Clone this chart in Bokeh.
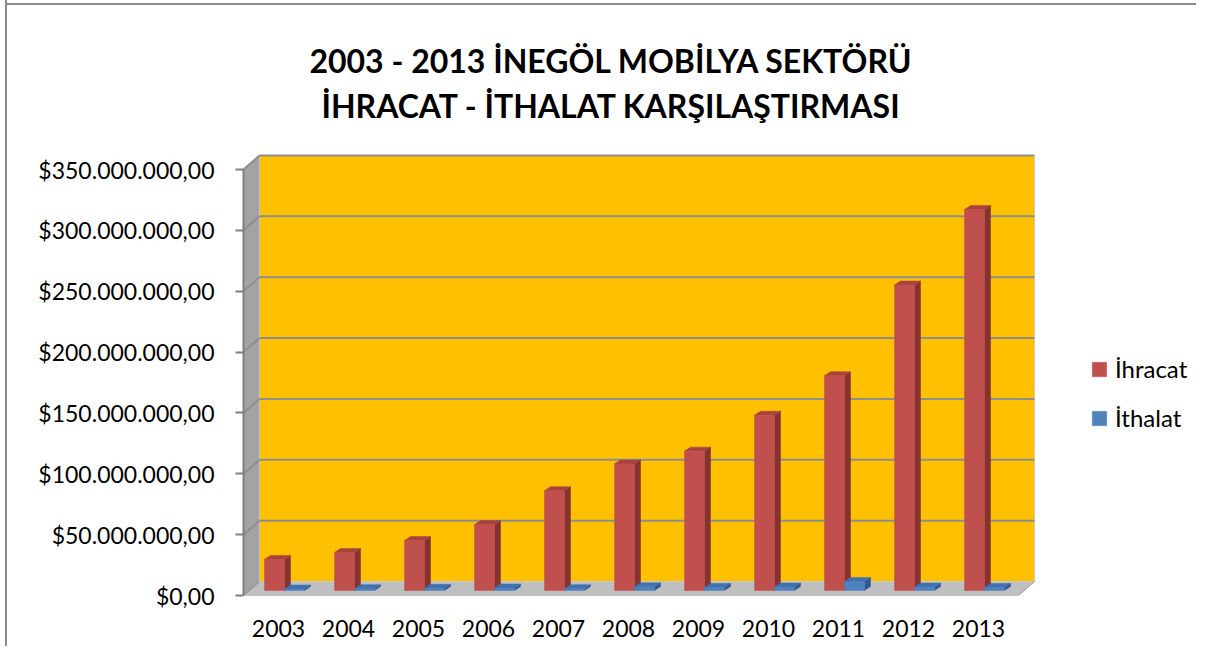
from bokeh.plotting import figure
from bokeh.models import Range1d, FixedTicker, Label, Legend, LegendItem
from bokeh.embed import file_html
from bokeh.resources import INLINE

# ---------------- data ----------------
years = ["2003", "2004", "2005", "2006", "2007", "2008", "2009", "2010", "2011", "2012", "2013"]
ihracat = [25_500_000, 31_200_000, 41_000_000, 54_200_000, 82_000_000, 104_000_000,
           114_500_000, 144_000_000, 176_500_000, 251_000_000, 313_000_000]
ithalat = [1_200_000, 1_500_000, 1_800_000, 2_000_000, 1_500_000, 3_000_000,
           2_500_000, 2_800_000, 7_400_000, 2_800_000, 2_500_000]
y_ticks = [0, 50_000_000, 100_000_000, 150_000_000, 200_000_000, 250_000_000, 300_000_000, 350_000_000]
series_names = ["İhracat", "İthalat"]
title_lines = ["2003 - 2013 İNEGÖL MOBİLYA SEKTÖRÜ", "İHRACAT - İTHALAT KARŞILAŞTIRMASI"]


def fmt(v):
    return "$" + f"{int(v):,}".replace(",", ".") + ",00"


# ---------------- geometry (pixels -> data) ----------------
W, H = 1196, 646
FL, FT = 243, 0
FW, FH = W - FL, 595 - FT
PXU = 70.0                      # px per category
PXV = 426.0 / 350_000_000       # px per value unit
x0 = -0.5
x1 = x0 + FW / PXU
y1 = FH / PXV

WDX = 16 / PXU
WDY = 14 / PXV
BDX = 6 / PXU
BDY = 4 / PXV
BASE = 5 / PXV
BW = 20 / PXU
RED_OFF = -0.2
FLOOR_R = 10.571
TOPV = y_ticks[-1]

p = figure(width=W, height=H, output_backend="svg", toolbar_location=None,
           x_range=Range1d(x0, x1), y_range=Range1d(0, y1),
           min_border_left=FL, min_border_right=0,
           min_border_top=FT, min_border_bottom=H - FT - FH)
p.outline_line_color = None
p.background_fill_alpha = 0
p.border_fill_alpha = 0
p.styles = {
    "background": ("linear-gradient(to right, #ffffff 5px, #8c8c8c 5px, #8c8c8c 7px, transparent 7px), "
                   "linear-gradient(to bottom, #ffffff 3px, #8c8c8c 3px, #8c8c8c 5px, #ffffff 5px)"),
}
p.xgrid.visible = False
p.ygrid.visible = False

# floor
p.patch([x0, FLOOR_R, FLOOR_R + WDX, x0 + WDX], [0, 0, WDY, WDY],
        fill_color="#BFBFBF", line_color="#9A9A9A", line_width=1)
# side wall
p.patch([x0, x0 + WDX, x0 + WDX, x0], [0, WDY, TOPV + WDY, TOPV],
        fill_color="#A3A3A3", line_color="#8C8C8C", line_width=1)
# back wall
p.quad(left=x0 + WDX, right=FLOOR_R + WDX, bottom=WDY, top=TOPV + WDY,
       fill_color="#FFC000", line_color="#C8C8C8", line_width=1)

# gridlines on walls
for t in y_ticks[1:]:
    p.line([x0 + WDX, FLOOR_R + WDX], [t + WDY, t + WDY], line_color="#8E8E8E", line_width=2)
    p.line([x0, x0 + WDX], [t, t + WDY], line_color="#8E8E8E", line_width=2)


def bar_faces(vals, off):
    fx, fy, sx, sy, tx, ty = [], [], [], [], [], []
    for i, v in enumerate(vals):
        a = i + off
        b = a + BW
        lo = BASE
        hi = BASE + v
        fx.append([a, b, b, a]); fy.append([lo, lo, hi, hi])
        sx.append([b, b + BDX, b + BDX, b]); sy.append([lo, lo + BDY, hi + BDY, hi])
        tx.append([a, b, b + BDX, a + BDX]); ty.append([hi, hi, hi + BDY, hi + BDY])
    return fx, fy, sx, sy, tx, ty


renderers = []
for vals, off, cf, cs, ct in [
    (ihracat, RED_OFF, "#C0504D", "#843331", "#A9423F"),
    (ithalat, RED_OFF + BW, "#4F81BD", "#2F5690", "#4171AE"),
]:
    fx, fy, sx, sy, tx, ty = bar_faces(vals, off)
    p.patches(sx, sy, fill_color=cs, line_color=cs, line_width=0.5)
    p.patches(tx, ty, fill_color=ct, line_color=ct, line_width=0.5)
    r = p.patches(fx, fy, fill_color=cf, line_color=cf, line_width=0.5)
    renderers.append(r)

# axes
p.yaxis.ticker = FixedTicker(ticks=y_ticks)
p.yaxis.major_label_overrides = {t: fmt(t) for t in y_ticks}
p.yaxis.bounds = (0, TOPV)
p.yaxis.axis_line_color = "#7F7F7F"
p.yaxis.axis_line_width = 2
p.yaxis.major_tick_line_color = "#7F7F7F"
p.yaxis.major_tick_line_width = 2
p.yaxis.major_tick_out = 8
p.yaxis.major_tick_in = 0
p.yaxis.minor_tick_line_color = None
p.yaxis.major_label_standoff = 21
p.yaxis.major_label_text_font = "Lato"
p.yaxis.major_label_text_font_size = "23px"
p.yaxis.major_label_text_color = "black"

p.xaxis.ticker = FixedTicker(ticks=list(range(len(years))))
p.xaxis.major_label_overrides = {i: y for i, y in enumerate(years)}
p.xaxis.axis_line_color = None
p.xaxis.major_tick_line_color = None
p.xaxis.minor_tick_line_color = None
p.xaxis.major_label_standoff = 18
p.xaxis.major_label_text_font = "Lato"
p.xaxis.major_label_text_font_size = "23px"
p.xaxis.major_label_text_color = "black"

# legend (inside the extended frame, right of the walls)
legend = Legend(items=[LegendItem(label=series_names[0], renderers=[renderers[0]]),
                       LegendItem(label=series_names[1], renderers=[renderers[1]])],
                location=(847, 163), padding=0, margin=0, spacing=20,
                border_line_color=None, background_fill_alpha=0,
                glyph_width=18, glyph_height=18, label_standoff=7,
                label_text_font="Lato", label_text_font_size="24px", label_text_color="black")
p.add_layout(legend)

# title
for txt, yy in zip(title_lines, [535, 490]):
    p.add_layout(Label(x=368, y=yy, x_units="screen", y_units="screen", text=txt,
                       text_align="center", text_baseline="alphabetic",
                       text_font="Lato", text_font_style="bold", text_font_size="32px",
                       text_color="black"))

open("out.html", "w").write(file_html(p, INLINE))
